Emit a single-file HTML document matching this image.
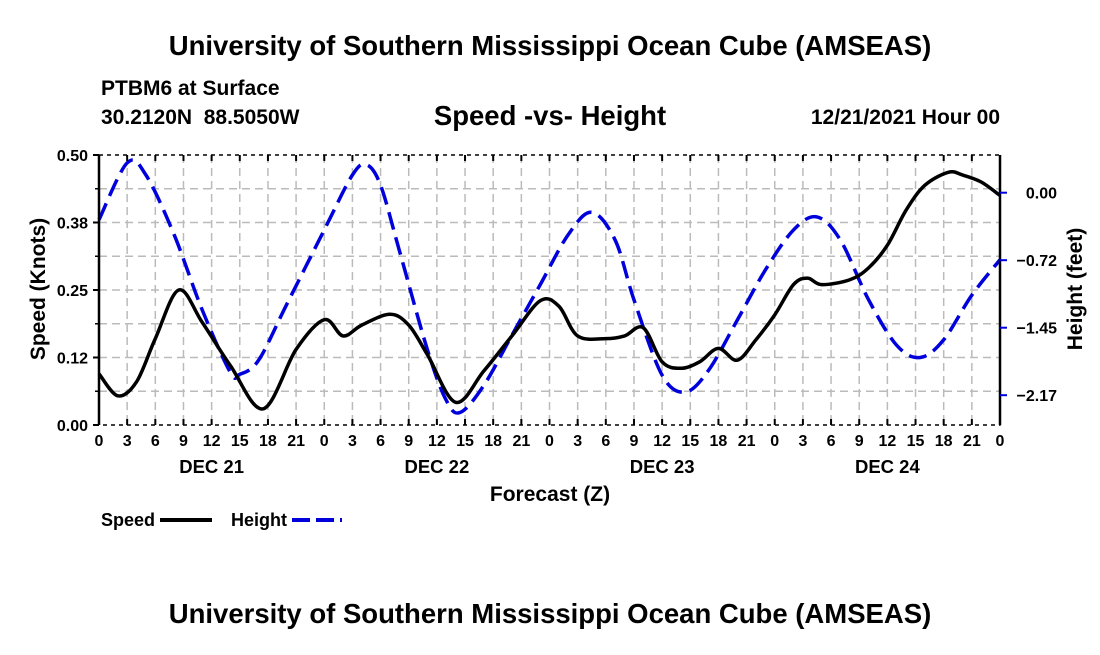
<!DOCTYPE html>
<html><head><meta charset="utf-8"><style>
body{margin:0;background:#fff;}
svg text{font-family:"Liberation Sans",sans-serif;font-weight:bold;fill:#000;white-space:pre;}
</style></head><body>
<svg id="chart" width="1100" height="650" xmlns="http://www.w3.org/2000/svg">
<text x="550" y="55" font-size="27.5" text-anchor="middle">University of Southern Mississippi Ocean Cube (AMSEAS)</text>
<text x="101" y="95" font-size="21">PTBM6 at Surface</text>
<text x="101" y="124" font-size="21" xml:space="preserve">30.2120N  88.5050W</text>
<text x="550" y="125" font-size="27.5" text-anchor="middle">Speed -vs- Height</text>
<text x="1000" y="124" font-size="21" text-anchor="end">12/21/2021 Hour 00</text>
<g id="grid"></g><g id="series"></g><g id="axes"></g>
<text transform="translate(45,289) rotate(-90)" font-size="21" text-anchor="middle">Speed (Knots)</text>
<text transform="translate(1082,289) rotate(-90)" font-size="21" text-anchor="middle">Height (feet)</text>
<text x="550" y="501" font-size="21" text-anchor="middle">Forecast (Z)</text>
<g><text x="101" y="526" font-size="18">Speed</text><line x1="160" y1="520" x2="212" y2="520" stroke="#000" stroke-width="4"/></g>
<g><text x="231" y="526" font-size="18">Height</text><line x1="292" y1="520" x2="342" y2="520" stroke="#0000dd" stroke-width="4" stroke-dasharray="18,6"/></g>
<text x="550" y="623" font-size="27.5" text-anchor="middle">University of Southern Mississippi Ocean Cube (AMSEAS)</text>
</svg>
<script>
const speedHours=[0,2,4,6,8.5,11,14,17.5,21,24,26,28,31,33,35,38,41,44,47,49,51,54,56,58,60,62,64,66,68,70,72,74,75.5,77,80,82,84,86,88,90.5,92,94,96];
const speedValues=[0.095,0.054,0.08,0.16,0.25,0.19,0.11,0.03,0.14,0.195,0.165,0.185,0.205,0.185,0.13,0.042,0.1,0.165,0.23,0.22,0.165,0.16,0.165,0.18,0.117,0.105,0.117,0.142,0.12,0.158,0.204,0.26,0.272,0.26,0.269,0.291,0.333,0.398,0.444,0.468,0.463,0.45,0.425];
const heightHours=[0,3,5,8,11,14,15,17,20,24,27,28.5,30,32,35,37,38.5,41,44,47,50,52.5,55,57,60,62.5,65,68,71,74,76.5,79,82,85,87.5,90,93,96];
const heightValues=[-0.29,0.32,0.19,-0.45,-1.26,-1.93,-1.95,-1.8,-1.2,-0.4,0.19,0.30,0.08,-0.62,-1.69,-2.23,-2.36,-2.07,-1.53,-0.99,-0.45,-0.21,-0.51,-1.15,-1.96,-2.14,-1.9,-1.37,-0.83,-0.4,-0.26,-0.51,-1.15,-1.64,-1.77,-1.58,-1.1,-0.72];
const speedTicks=[0,0.125,0.25,0.375,0.5];
const speedTickLabels=["0.00","0.12","0.25","0.38","0.50"];
const heightTicks=[0,-0.725,-1.45,-2.175];
const heightTickLabels=["0.00","\u22120.72","\u22121.45","\u22122.17"];
const dayLabels=["DEC 21","DEC 22","DEC 23","DEC 24"];
const L=99,R=1000,T=155,B=425;
const xS=h=>L+h*(R-L)/96;
const yS=s=>B-s*(B-T)/0.5;
const yH=h=>192.7-h*93.1;
const NS="http://www.w3.org/2000/svg";
function mk(tag,at,parent){const e=document.createElementNS(NS,tag);for(const k in at)e.setAttribute(k,at[k]);parent.appendChild(e);return e;}
const grid=document.getElementById('grid'),ser=document.getElementById('series'),ax=document.getElementById('axes');
for(let h=3;h<96;h+=3){const g=mk('line',{x1:xS(h),x2:xS(h),y1:T,y2:B,stroke:'#bbb','stroke-width':1.5,'stroke-dasharray':'8,5'},grid);

}
for(let i=1;i<8;i++){const g=mk('line',{x1:L,x2:R,y1:yS(i*0.0625),y2:yS(i*0.0625),stroke:'#bbb','stroke-width':1.5,'stroke-dasharray':'8,5'},grid);

}
function path(xs,ys){const p=xs.map((x,i)=>[x,ys[i]]);let d=`M${p[0][0]},${p[0][1]}`;
for(let i=0;i<p.length-1;i++){const p0=p[Math.max(0,i-1)],p1=p[i],p2=p[i+1],p3=p[Math.min(p.length-1,i+2)];
d+=` C${p1[0]+(p2[0]-p0[0])/6},${p1[1]+(p2[1]-p0[1])/6} ${p2[0]-(p3[0]-p1[0])/6},${p2[1]-(p3[1]-p1[1])/6} ${p2[0]},${p2[1]}`;}return d;}
const hl=mk('path',{d:path(heightHours.map(xS),heightValues.map(yH)),fill:'none',stroke:'#0000dd','stroke-width':3.5,'stroke-dasharray':'18,8'},ser);


const sl=mk('path',{d:path(speedHours.map(xS),speedValues.map(yS)),fill:'none',stroke:'#000','stroke-width':3.5},ser);


const fr=mk('rect',{x:L,y:T,width:R-L,height:B-T,fill:'none',stroke:'#000','stroke-width':1.5,'stroke-dasharray':'4,4'},ax);


mk('line',{x1:L,x2:L,y1:T,y2:B,stroke:'#000','stroke-width':2.5},ax);
mk('line',{x1:R,x2:R,y1:T,y2:B,stroke:'#000','stroke-width':2.5},ax);
for(let h=0;h<=96;h+=3){mk('line',{x1:xS(h),x2:xS(h),y1:B,y2:B-6,stroke:'#000','stroke-width':2},ax);mk('line',{x1:xS(h),x2:xS(h),y1:T,y2:T+6,stroke:'#000','stroke-width':2},ax);
const t=mk('text',{x:xS(h),y:B+21,'font-size':16,'text-anchor':'middle'},ax);t.textContent=String(h%24);

}
dayLabels.forEach((s,i)=>{const t=mk('text',{x:xS(12+24*i),y:B+48,'font-size':18.5,'text-anchor':'middle'},ax);t.textContent=s;

});
speedTicks.forEach((v,i)=>{mk('line',{x1:L-6,x2:L,y1:yS(v),y2:yS(v),stroke:'#000','stroke-width':2},ax);
const t=mk('text',{x:L-11,y:yS(v)+6,'font-size':16,'text-anchor':'end'},ax);t.textContent=speedTickLabels[i];

});
for(let i=1;i<8;i+=2)mk('line',{x1:L-4,x2:L,y1:yS(i*0.0625),y2:yS(i*0.0625),stroke:'#000','stroke-width':1.5},ax);
heightTicks.forEach((v,i)=>{mk('line',{x1:R,x2:R+7,y1:yH(v),y2:yH(v),stroke:'#0000dd','stroke-width':2},ax);
const t=mk('text',{x:R+57,y:yH(v)+6,'font-size':16,'text-anchor':'end'},ax);t.textContent=heightTickLabels[i];

});
</script>
</body></html>
